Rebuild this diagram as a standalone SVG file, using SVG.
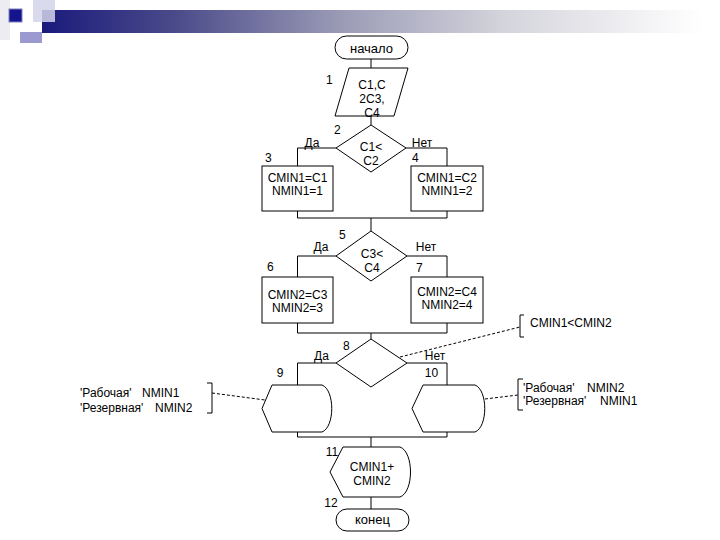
<svg xmlns="http://www.w3.org/2000/svg" width="720" height="540" viewBox="0 0 720 540">
<style>
.s{fill:#fff;stroke:#000;stroke-width:1}
.l{fill:none;stroke:#000;stroke-width:1}
.d{fill:none;stroke:#000;stroke-width:1;stroke-dasharray:3,2}
text{font-family:"Liberation Sans",Arial,sans-serif;font-size:12px;fill:#000}
.m{text-anchor:middle}
.t{font-size:13px}
</style>
<defs>
<linearGradient id="bar" x1="0" y1="0" x2="1" y2="0">
<stop offset="0" stop-color="#1a1a7c"/>
<stop offset="0.2" stop-color="#4a4a8a"/>
<stop offset="0.45" stop-color="#9a9ab6"/>
<stop offset="0.7" stop-color="#d4d4dc"/>
<stop offset="1" stop-color="#ffffff"/>
</linearGradient>
</defs>
<rect width="720" height="540" fill="#fff"/>
<g id="header">
<rect x="0" y="0" width="10" height="40" fill="#ececf2"/>
<rect x="42" y="10" width="660" height="23" fill="url(#bar)"/>
<rect x="33" y="0" width="22" height="22" fill="#d4d4ea" fill-opacity="0.85"/>
<rect x="9" y="9" width="13" height="13" fill="#14148c" stroke="#8080c0" stroke-width="1"/>
<rect x="20" y="32" width="22" height="11" fill="#9a9ad0"/>
</g>
<g id="connectors">
<path class="l" d="M371,59V68M371,116V125"/>
<path class="l" d="M336,148H297.5V166M406,148H447V166"/>
<path class="l" d="M297.5,211V218H447V211M371,218V231"/>
<path class="l" d="M336,256H297.5V277M407,256H447V277"/>
<path class="l" d="M297.5,323V333H447V323M371,333V339"/>
<path class="l" d="M336,363H297.5V385M407,363H447V385"/>
<path class="l" d="M297.5,432V437H447V432M371,437V447M371,497V509"/>
<path class="d" d="M400,357L520,327"/>
<path class="d" d="M212,393L265,400"/>
<path class="d" d="M485,399L518,395"/>
</g>
<g id="start">
<rect class="s" x="335" y="36" width="73" height="23" rx="11.5"/>
<text class="m t" x="371.5" y="53">начало</text>
</g>
<g id="input1">
<path class="s" d="M349,68H408L394,116H335Z"/>
<text class="m" x="372" y="89">C1,C</text>
<text class="m" x="372" y="103">2C3,</text>
<text class="m" x="372" y="117">C4</text>
<text x="326" y="84">1</text>
</g>
<g id="dec2">
<path class="s" d="M371,125L406,148L371,172L336,148Z"/>
<text class="m" x="371" y="151">C1&lt;</text>
<text class="m" x="371" y="165">C2</text>
<text x="334" y="134">2</text>
<text class="m" x="312" y="147">Да</text>
<text class="m" x="422" y="147">Нет</text>
</g>
<g id="box3">
<rect class="s" x="262" y="166" width="71" height="45"/>
<text class="m" x="297.5" y="182">CMIN1=C1</text>
<text class="m" x="297.5" y="195">NMIN1=1</text>
<text x="265" y="162">3</text>
</g>
<g id="box4">
<rect class="s" x="411" y="166" width="72" height="45"/>
<text class="m" x="447" y="182">CMIN1=C2</text>
<text class="m" x="447" y="195">NMIN1=2</text>
<text x="412" y="162">4</text>
</g>
<g id="dec5">
<path class="s" d="M371,231L407,256L371,281L336,256Z"/>
<text class="m" x="372" y="258">C3&lt;</text>
<text class="m" x="372" y="272">C4</text>
<text x="339" y="239">5</text>
<text class="m" x="321" y="251">Да</text>
<text class="m" x="426" y="251">Нет</text>
</g>
<g id="box6">
<rect class="s" x="262" y="277" width="71" height="46"/>
<text class="m" x="297.5" y="299">CMIN2=C3</text>
<text class="m" x="297.5" y="312">NMIN2=3</text>
<text x="267" y="271">6</text>
</g>
<g id="box7">
<rect class="s" x="411" y="277" width="72" height="46"/>
<text class="m" x="447" y="296">CMIN2=C4</text>
<text class="m" x="447" y="309">NMIN2=4</text>
<text x="416" y="272">7</text>
</g>
<g id="dec8">
<path class="s" d="M371,339L407,363L371,387L336,363Z"/>
<text x="343" y="350">8</text>
<text class="m" x="321.5" y="360">Да</text>
<text class="m" x="435" y="360">Нет</text>
</g>
<g id="disp9">
<path class="s" d="M272,385H322C335,390 335,427 322,432H272L262,408.5Z"/>
<text class="m" x="280" y="377">9</text>
</g>
<g id="disp10">
<path class="s" d="M423,385H475C488,390 488,427 475,432H423L412,408.5Z"/>
<text class="m" x="431.5" y="377">10</text>
</g>
<g id="disp11">
<path class="s" d="M343,447H400C414,452 414,492 400,497H343L330,472Z"/>
<text class="m" x="372" y="471">CMIN1+</text>
<text class="m" x="372" y="485">CMIN2</text>
<text class="m" x="332" y="456">11</text>
<text class="m" x="331" y="507">12</text>
</g>
<g id="end">
<rect class="s" x="336" y="509" width="73" height="22" rx="11"/>
<text class="m t" x="372.5" y="524">конец</text>
</g>
<g id="note1">
<path class="l" d="M524,315H520V337H524"/>
<text x="530" y="327">CMIN1&lt;CMIN2</text>
</g>
<g id="note2">
<path class="l" d="M207,383H212V413H207"/>
<text x="80" y="397">'Рабочая'</text>
<text x="142" y="397">NMIN1</text>
<text x="80" y="412">'Резервная'</text>
<text x="155" y="412">NMIN2</text>
</g>
<g id="note3">
<path class="l" d="M523,379H518V410H523"/>
<text x="523" y="392">'Рабочая'</text>
<text x="587" y="392">NMIN2</text>
<text x="523" y="405">'Резервная'</text>
<text x="600" y="405">NMIN1</text>
</g>
</svg>
